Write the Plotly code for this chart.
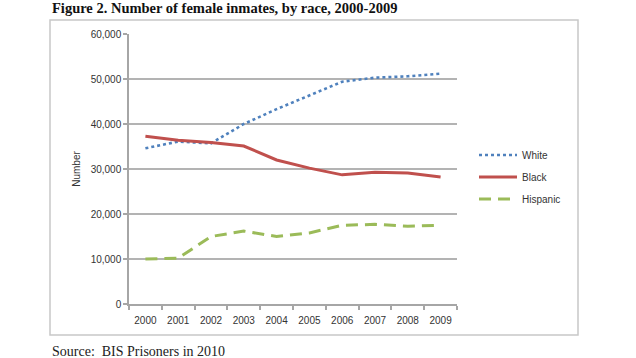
import plotly.graph_objects as go

years = ["2000", "2001", "2002", "2003", "2004", "2005", "2006", "2007", "2008", "2009"]
white = [34600, 36100, 35700, 40000, 43300, 46300, 49400, 50300, 50600, 51200]
black = [37300, 36400, 35900, 35100, 32000, 30200, 28700, 29300, 29100, 28200]
hispanic = [10000, 10200, 15000, 16200, 15000, 15800, 17500, 17700, 17300, 17500]

series_names = ["White", "Black", "Hispanic"]
series_values = [white, black, hispanic]
series_colors = ["#4F81BD", "#C0504D", "#9BBB59"]
series_dash = ["3px,3px", "solid", "12px,7px"]
series_width = [2.6, 3, 3]

title_text = "Figure 2. Number of female inmates, by race, 2000-2009"
source_text = "Source:  BIS Prisoners in 2010"

# the page body margin is removed below, so figure pixels == screen pixels
L, R, T, B = 129, 457, 34, 304
W, H = 636, 358
pw, ph = R - L, B - T


def px(x):
    return (x - L) / pw


def py(y):
    return (B - y) / ph


fig = go.Figure()
for n, v, c, d, w in zip(series_names, series_values, series_colors, series_dash, series_width):
    fig.add_trace(go.Scatter(
        x=years, y=v, name=n, mode="lines",
        line=dict(color=c, dash=d, width=w),
        legendgroup=n,
    ))

axis_font = dict(family="Liberation Sans, Arial, sans-serif", size=10, color="#333333")

fig.update_layout(
    width=W, height=H,
    margin=dict(l=L, r=W - R, t=T, b=H - B),
    plot_bgcolor="white", paper_bgcolor="white",
    showlegend=True,
    legend=dict(
        x=px(474), y=py(177), xanchor="left", yanchor="middle",
        font=dict(family="Liberation Sans, Arial, sans-serif", size=10, color="#333333"),
        traceorder="grouped", tracegroupgap=3, itemwidth=38,
        bgcolor="rgba(0,0,0,0)",
    ),
    xaxis=dict(
        type="category", range=[-0.5, 9.5],
        showgrid=False, showline=True, linecolor="#a6a6a6", linewidth=1.5,
        ticks="outside", tickson="boundaries", ticklen=4, tickcolor="#a6a6a6", tickwidth=1.5,
        tickfont=axis_font, ticklabelstandoff=6,
    ),
    yaxis=dict(
        range=[0, 60000], dtick=10000, tickformat=",",
        showgrid=True, gridcolor="#b3b3b3", gridwidth=1.5,
        showline=True, linecolor="#a6a6a6", linewidth=1.5,
        ticks="outside", ticklen=4, tickcolor="#a6a6a6", tickwidth=1.5,
        tickfont=axis_font, zeroline=False,
        title=dict(text="Number", font=axis_font, standoff=8),
    ),
    shapes=[dict(
        type="rect", xref="paper", yref="paper",
        x0=px(50), x1=px(578), y0=py(335), y1=py(20),
        line=dict(color="#c8c8c8", width=1.5), fillcolor="rgba(0,0,0,0)", layer="below",
    )],
    annotations=[
        dict(text="<b>" + title_text + "</b>", xref="paper", yref="paper",
             x=px(50), y=py(8.5), xanchor="left", yanchor="middle", showarrow=False,
             font=dict(family="Liberation Serif, Times New Roman, serif", size=14.5, color="#111111")),
        dict(text=source_text, xref="paper", yref="paper",
             x=px(50), y=py(351), xanchor="left", yanchor="middle", showarrow=False,
             font=dict(family="Liberation Serif, Times New Roman, serif", size=14, color="#222222")),
    ],
)

fig.write_html("out.html", config={"displayModeBar": False},
               post_script="document.body.style.margin='0';")
